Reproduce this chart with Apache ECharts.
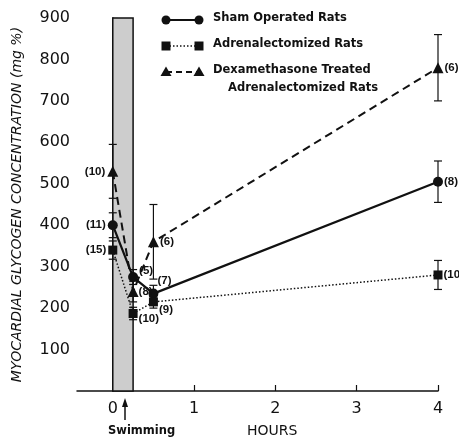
<!DOCTYPE html>
<html><head><meta charset="utf-8">
<script src="https://cdn.jsdelivr.net/npm/echarts@6/dist/echarts.min.js"></script>
<style>html,body{margin:0;padding:0;background:#fff}#c{width:459px;height:440px}</style>
</head><body><div id="c"></div>
<script>
// ---- data ----
const hours = [0, 0.25, 0.5, 4];
const shamValues = [400, 275, 235, 505];
const shamErrors = [30, 18, 20, 50];
const shamN = ['(11)', '(5)', '(7)', '(8)'];
const adxValues = [340, 187, 215, 280];
const adxErrors = [22, 15, 15, 35];
const adxN = ['(15)', '(10)', '(9)', '(10)'];
const dexValues = [530, 240, 360, 780];
const dexErrors = [65, 25, 90, 80];
const dexN = ['(10)', '(8)', '(6)', '(6)'];
const yTickValues = [100, 200, 300, 400, 500, 600, 700, 800, 900];
const xTickValues = [0, 1, 2, 3, 4];
const swimPeriod = [0, 0.25];
const seriesNames = ['Sham Operated Rats', 'Adrenalectomized Rats', 'Dexamethasone Treated\nAdrenalectomized Rats'];

// ---- styling ----
const FONT = 'DejaVu Sans';
const INK = '#111';
const labelBase = {show: true, fontFamily: 'Liberation Sans', fontSize: 11.5, fontWeight: 'bold', color: INK, distance: 1};

function pts(values, ns, labelCfg) {
  return hours.map((h, i) => ({
    value: [h, values[i]],
    label: Object.assign({}, labelBase, {formatter: ns[i]}, labelCfg[i])
  }));
}
function errData(values, errs) {
  return hours.map((h, i) => [h, values[i] - errs[i], values[i] + errs[i]]);
}
function errSeries(values, errs) {
  return {
    type: 'custom', silent: true, z: 1,
    data: errData(values, errs),
    renderItem: function (params, api) {
      const lo = api.coord([api.value(0), api.value(1)]);
      const hi = api.coord([api.value(0), api.value(2)]);
      const w = 4;
      const st = {stroke: INK, lineWidth: 1.2, fill: null};
      return {type: 'group', children: [
        {type: 'line', shape: {x1: lo[0], y1: lo[1], x2: hi[0], y2: hi[1]}, style: st},
        {type: 'line', shape: {x1: lo[0] - w, y1: lo[1], x2: lo[0] + w, y2: lo[1]}, style: st},
        {type: 'line', shape: {x1: hi[0] - w, y1: hi[1], x2: hi[0] + w, y2: hi[1]}, style: st}
      ]};
    },
    encode: {x: 0, y: [1, 2]}
  };
}

const L = {position: 'left', distance: 2};
const option = {
  animation: false,
  backgroundColor: '#fff',
  grid: {left: 77, right: 21, top: 18, bottom: 49},
  xAxis: {
    type: 'value', min: -0.44, max: 4,
    axisLine: {lineStyle: {color: INK, width: 1.5}},
    axisTick: {inside: true, length: 6, customValues: xTickValues.slice(1), lineStyle: {color: INK, width: 1.2}},
    axisLabel: {customValues: xTickValues, fontFamily: FONT, fontSize: 16, color: INK, margin: 10},
    splitLine: {show: false}
  },
  yAxis: {
    type: 'value', min: 0, max: 900,
    name: 'MYOCARDIAL GLYCOGEN CONCENTRATION (mg %)',
    nameLocation: 'middle', nameGap: 53, nameRotate: 90,
    nameTextStyle: {fontFamily: FONT, fontSize: 14, fontStyle: 'italic', color: INK},
    axisLine: {show: true, lineStyle: {color: INK, width: 1.5}},
    axisTick: {inside: true, length: 5, customValues: yTickValues, lineStyle: {color: INK, width: 1.2}},
    axisLabel: {customValues: yTickValues, fontFamily: FONT, fontSize: 16, color: INK, margin: 7},
    splitLine: {show: false}
  },
  series: [
    {
      name: seriesNames[0], type: 'line', z: 3,
      symbol: 'circle', symbolSize: 10,
      itemStyle: {color: INK},
      lineStyle: {color: INK, width: 2.2, type: 'solid'},
      data: pts(shamValues, shamN, [L, {position: 'right', offset: [0, -6]}, {position: 'right', offset: [-2, -13]}, {position: 'right'}]),
      markArea: {
        silent: true,
        itemStyle: {color: '#cdcdcd', borderColor: INK, borderWidth: 1.5},
        data: [[{xAxis: swimPeriod[0], yAxis: 0}, {xAxis: swimPeriod[1], yAxis: 900}]]
      }
    },
    {
      name: seriesNames[1], type: 'line', z: 3,
      symbol: 'rect', symbolSize: 9,
      itemStyle: {color: INK},
      lineStyle: {color: INK, width: 1.5, type: [1.5, 2]},
      data: pts(adxValues, adxN, [L, {position: 'right', offset: [0, 5]}, {position: 'right', offset: [0, 8]}, {position: 'right'}])
    },
    {
      name: seriesNames[2], type: 'line', z: 3,
      symbol: 'triangle', symbolSize: 11,
      itemStyle: {color: INK},
      lineStyle: {color: INK, width: 2, type: [8, 5]},
      data: pts(dexValues, dexN, [L, {position: 'right', offset: [-1, 0]}, {position: 'right'}, {position: 'right'}])
    },
    errSeries(shamValues, shamErrors),
    errSeries(adxValues, adxErrors),
    errSeries(dexValues, dexErrors)
  ],
  graphic: []
};

// legend drawn as graphics (real text)
const legendX = 166, legendX2 = 199, textX = 213;
const rowsY = [20, 46, 72];
const txtStyle = {fontFamily: FONT, fontSize: 11.5, fontWeight: 'bold', fill: INK};
const g = [];
function sym(kind, x, y) {
  if (kind === 0) return {type: 'circle', shape: {cx: x, cy: y, r: 4.5}, style: {fill: INK}};
  if (kind === 1) return {type: 'rect', shape: {x: x - 4.5, y: y - 4.5, width: 9, height: 9}, style: {fill: INK}};
  return {type: 'polygon', shape: {points: [[x, y - 5.5], [x - 5.5, y + 4], [x + 5.5, y + 4]]}, style: {fill: INK}};
}
const dashes = [null, [1.5, 2], [6, 4]];
const widths = [2, 1.5, 2];
rowsY.forEach((y, k) => {
  g.push({type: 'line', shape: {x1: legendX, y1: y, x2: legendX2, y2: y}, style: {stroke: INK, lineWidth: widths[k], lineDash: dashes[k]}});
  g.push(sym(k, legendX, y));
  g.push(sym(k, legendX2, y));
});
g.push({type: 'text', left: textX, top: rowsY[0] - 8, style: Object.assign({text: 'Sham Operated Rats'}, txtStyle)});
g.push({type: 'text', left: textX, top: rowsY[1] - 8, style: Object.assign({text: 'Adrenalectomized Rats'}, txtStyle)});
g.push({type: 'text', left: textX, top: rowsY[2] - 8, style: Object.assign({text: 'Dexamethasone Treated'}, txtStyle)});
g.push({type: 'text', left: textX + 15, top: rowsY[2] + 10, style: Object.assign({text: 'Adrenalectomized Rats'}, txtStyle)});
// swimming arrow + labels
g.push({type: 'line', shape: {x1: 125, y1: 420, x2: 125, y2: 402}, style: {stroke: INK, lineWidth: 1.5}});
g.push({type: 'polygon', shape: {points: [[125, 398], [122, 407], [128, 407]]}, style: {fill: INK}});
g.push({type: 'text', left: 108, top: 425, style: Object.assign({}, txtStyle, {text: 'Swimming', fontSize: 11.5})});
g.push({type: 'text', left: 247, top: 424, style: {text: 'HOURS', fontFamily: FONT, fontSize: 14, fill: INK}});
option.graphic = g;

const chart = echarts.init(document.getElementById('c'), null, {renderer: 'canvas'});
chart.setOption(option);
</script>
</body></html>
